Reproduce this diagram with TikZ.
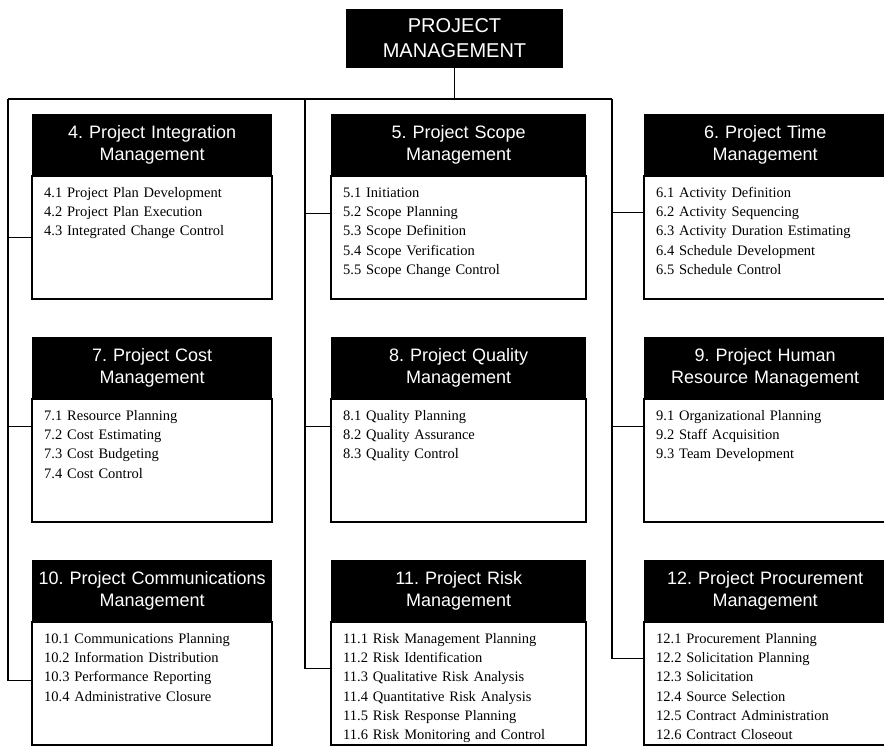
\documentclass[tikz,border=0pt]{standalone}
\usepackage{fontspec}
\setmainfont{Liberation Serif}
\newfontfamily\hdrfont{Liberation Sans}
\usetikzlibrary{positioning}
\frenchspacing

\begin{document}
\begin{tikzpicture}[x=1pt, y=-1pt]
    % Define styles
    \tikzstyle{root} = [rectangle, fill=black, text=white, minimum width=217pt, minimum height=59pt, inner sep=0pt, align=center, font=\hdrfont\fontsize{20}{25}\selectfont]
    \tikzstyle{head} = [rectangle, fill=black, text=white, minimum height=61pt, inner sep=0pt, align=center, anchor=north west, font=\hdrfont\fontsize{18}{22}\selectfont]
    \tikzstyle{list} = [rectangle, draw=black, line width=1.6pt, fill=white, align=left, inner xsep=12pt, inner ysep=10pt, text height=11pt, text depth=92pt, font=\fontsize{14.5}{19.3}\selectfont]
    \tikzstyle{wire} = [draw=black, line width=1.4pt]

    \useasboundingbox (0,0) rectangle (884,745);
    \clip (0,0) rectangle (884,745);
    \fill[white] (0,0) rectangle (884,745);

    % Root
    \node [root] (pm) at (454.5,38.5) {PROJECT\\MANAGEMENT};

    % Left column
    \node [head, text width=240pt] (h4) at (32,114) {4. Project Integration\\Management};
    \node [list, text width=216pt, below=0pt of h4] (b4) {4.1 Project Plan Development\\4.2 Project Plan Execution\\4.3 Integrated Change Control};
    \node [head, text width=240pt] (h7) at (32,337) {7. Project Cost\\Management};
    \node [list, text width=216pt, below=0pt of h7] (b7) {7.1 Resource Planning\\7.2 Cost Estimating\\7.3 Cost Budgeting\\7.4 Cost Control};
    \node [head, text width=240pt] (h10) at (32,560) {10. Project Communications\\Management};
    \node [list, text width=216pt, below=0pt of h10] (b10) {10.1 Communications Planning\\10.2 Information Distribution\\10.3 Performance Reporting\\10.4 Administrative Closure};

    % Middle column
    \node [head, text width=255pt] (h5) at (331,114) {5. Project Scope\\Management};
    \node [list, text width=231pt, below=0pt of h5] (b5) {5.1 Initiation\\5.2 Scope Planning\\5.3 Scope Definition\\5.4 Scope Verification\\5.5 Scope Change Control};
    \node [head, text width=255pt] (h8) at (331,337) {8. Project Quality\\Management};
    \node [list, text width=231pt, below=0pt of h8] (b8) {8.1 Quality Planning\\8.2 Quality Assurance\\8.3 Quality Control};
    \node [head, text width=255pt] (h11) at (331,560) {11. Project Risk\\Management};
    \node [list, text width=231pt, below=0pt of h11] (b11) {11.1 Risk Management Planning\\11.2 Risk Identification\\11.3 Qualitative Risk Analysis\\11.4 Quantitative Risk Analysis\\11.5 Risk Response Planning\\11.6 Risk Monitoring and Control};

    % Right column
    \node [head, text width=242pt] (h6) at (644,114) {6. Project Time\\Management};
    \node [list, text width=218pt, below=0pt of h6] (b6) {6.1 Activity Definition\\6.2 Activity Sequencing\\6.3 Activity Duration Estimating\\6.4 Schedule Development\\6.5 Schedule Control};
    \node [head, text width=242pt] (h9) at (644,337) {9. Project Human\\Resource Management};
    \node [list, text width=218pt, below=0pt of h9] (b9) {9.1 Organizational Planning\\9.2 Staff Acquisition\\9.3 Team Development};
    \node [head, text width=242pt] (h12) at (644,560) {12. Project Procurement\\Management};
    \node [list, text width=218pt, below=0pt of h12] (b12) {12.1 Procurement Planning\\12.2 Solicitation Planning\\12.3 Solicitation\\12.4 Source Selection\\12.5 Contract Administration\\12.6 Contract Closeout};

    % Bus
    \coordinate (busL) at (8,99);
    \coordinate (busM) at (305,99);
    \coordinate (busR) at (612,99);
    \draw [wire] (pm.south) -- (pm.south |- busL);
    \draw [wire] (busL) -- (busR);

    % Branches
    \draw [wire] (busL) |- ([yshift=-62pt]b4.north west);
    \draw [wire] (busL) |- ([yshift=-28pt]b7.north west);
    \draw [wire] (busL) |- ([yshift=-59pt]b10.north west);
    \draw [wire] (busM) |- ([yshift=-38pt]b5.north west);
    \draw [wire] (busM) |- ([yshift=-28pt]b8.north west);
    \draw [wire] (busM) |- ([yshift=-47pt]b11.north west);
    \draw [wire] (busR) |- ([yshift=-37pt]b6.north west);
    \draw [wire] (busR) |- ([yshift=-28pt]b9.north west);
    \draw [wire] (busR) |- ([yshift=-37pt]b12.north west);
\end{tikzpicture}
\end{document}
